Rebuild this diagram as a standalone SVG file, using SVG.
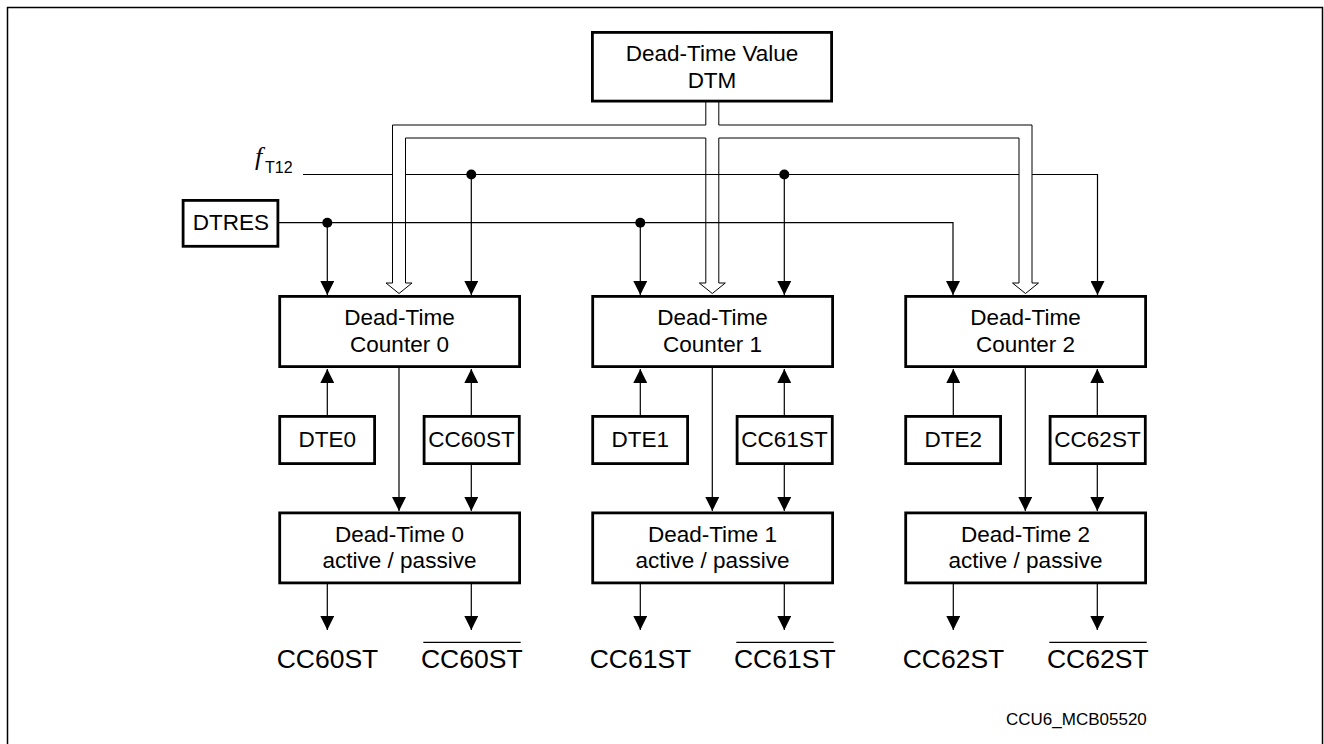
<svg xmlns="http://www.w3.org/2000/svg" width="1324" height="744" viewBox="0 0 1324 744">
<defs>
<style>
.box{fill:#fff;stroke:#000;stroke-width:2.8}
.t{font-family:"Liberation Sans",Arial,sans-serif;font-size:22.5px;fill:#000;text-anchor:middle}
.big{font-family:"Liberation Sans",Arial,sans-serif;font-size:26.5px;fill:#000;text-anchor:middle}
.w{fill:none;stroke:#000;stroke-width:1.2}
.a{fill:none;stroke:#000;stroke-width:1.2;marker-end:url(#ah)}
.p{fill:none;stroke:#000;stroke-width:1}
.oh{fill:#fff;stroke:#000;stroke-width:1}
.dot{fill:#000}
</style>
<marker id="ah" viewBox="0 0 14 14" refX="14" refY="7" markerWidth="14" markerHeight="14" markerUnits="userSpaceOnUse" orient="auto">
<path d="M0,0 L14,7 L0,14 z" fill="#000"/>
</marker>
</defs>
<rect width="1324" height="744" fill="#fff"/>
<rect x="7.5" y="7.5" width="1315" height="760" fill="none" stroke="#000" stroke-width="1.5"/>

<g id="connectors">
<!-- DTM bus (hollow) -->
<path class="p" d="M705.8,102 V125 H392.5 V283"/>
<path class="p" d="M705.8,283 V138 H405.5 V283"/>
<path class="p" d="M718.8,102 V125 H1032 V283"/>
<path class="p" d="M718.8,283 V138 H1019 V283"/>
<path class="oh" d="M392.5,283 H386 L399,293.5 L412,283 H405.5"/>
<path class="oh" d="M705.8,283 H699.3 L712.3,293.5 L725.3,283 H718.8"/>
<path class="oh" d="M1019,283 H1012.5 L1025.5,293.5 L1038.5,283 H1032"/>
<!-- fT12 line -->
<path class="w" d="M303,174.5 H392.5"/>
<path class="w" d="M405.5,174.5 H1019"/>
<path class="a" d="M1032,174.5 H1097.5 V295"/>
<path class="a" d="M471.3,174.5 V295"/>
<path class="a" d="M784.3,174.5 V295"/>
<circle class="dot" cx="471.3" cy="174.5" r="5"/>
<circle class="dot" cx="784.3" cy="174.5" r="5"/>
<!-- DTRES line -->
<path class="a" d="M279,222.7 H953 V295"/>
<path class="a" d="M327.3,222.7 V295"/>
<path class="a" d="M640.3,222.7 V295"/>
<circle class="dot" cx="327.3" cy="222.7" r="5"/>
<circle class="dot" cx="640.3" cy="222.7" r="5"/>
<!-- channel 0 -->
<path class="a" d="M327.3,415 V369"/>
<path class="a" d="M471.3,415 V369"/>
<path class="a" d="M399,368 V511"/>
<path class="a" d="M471.3,465 V511"/>
<path class="a" d="M327.3,584 V630"/>
<path class="a" d="M471.3,584 V630"/>
<!-- channel 1 -->
<path class="a" d="M640.3,415 V369"/>
<path class="a" d="M784.3,415 V369"/>
<path class="a" d="M712.3,368 V511"/>
<path class="a" d="M784.3,465 V511"/>
<path class="a" d="M640.3,584 V630"/>
<path class="a" d="M784.3,584 V630"/>
<!-- channel 2 -->
<path class="a" d="M953.3,415 V369"/>
<path class="a" d="M1097.3,415 V369"/>
<path class="a" d="M1025.3,368 V511"/>
<path class="a" d="M1097.3,465 V511"/>
<path class="a" d="M953.3,584 V630"/>
<path class="a" d="M1097.3,584 V630"/>
</g>

<g id="dtm">
<rect class="box" x="592.4" y="32.4" width="239.2" height="68.7"/>
<text class="t" x="712" y="61">Dead-Time Value</text>
<text class="t" x="712" y="87.7">DTM</text>
</g>

<g id="fT12">
<text x="255" y="165" font-family="'Liberation Serif',serif" font-style="italic" font-size="26">f</text>
<text x="265" y="173.3" font-family="'Liberation Sans',Arial,sans-serif" font-size="16">T12</text>
</g>

<g id="dtres">
<rect class="box" x="183.1" y="200.4" width="94.8" height="45.9"/>
<text class="t" x="231" y="229.5">DTRES</text>
</g>

<g id="counter0">
<rect class="box" x="279.7" y="296.4" width="239.9" height="70.2"/>
<text class="t" x="399.5" y="325">Dead-Time</text>
<text class="t" x="399.5" y="351.7">Counter 0</text>
</g>
<g id="dte0">
<rect class="box" x="279.7" y="416.4" width="94.9" height="47.2"/>
<text class="t" x="327.3" y="447">DTE0</text>
</g>
<g id="cc60st">
<rect class="box" x="424.1" y="416.4" width="95.2" height="47.2"/>
<text class="t" x="471.5" y="447">CC60ST</text>
</g>
<g id="dt0">
<rect class="box" x="279.7" y="512.9" width="239.9" height="70"/>
<text class="t" x="399.5" y="541.7">Dead-Time 0</text>
<text class="t" x="399.5" y="568.3">active / passive</text>
</g>
<g id="out0">
<text class="big" x="327.5" y="667.7">CC60ST</text>
<text class="big" x="471.8" y="667.7">CC60ST</text>
<line x1="423.3" y1="642.3" x2="520.7" y2="642.3" stroke="#000" stroke-width="1.2"/>
</g>

<g id="counter1">
<rect class="box" x="592.7" y="296.4" width="239.9" height="70.2"/>
<text class="t" x="712.5" y="325">Dead-Time</text>
<text class="t" x="712.5" y="351.7">Counter 1</text>
</g>
<g id="dte1">
<rect class="box" x="592.7" y="416.4" width="94.9" height="47.2"/>
<text class="t" x="640.3" y="447">DTE1</text>
</g>
<g id="cc61st">
<rect class="box" x="737.1" y="416.4" width="95.2" height="47.2"/>
<text class="t" x="784.5" y="447">CC61ST</text>
</g>
<g id="dt1">
<rect class="box" x="592.7" y="512.9" width="239.9" height="70"/>
<text class="t" x="712.5" y="541.7">Dead-Time 1</text>
<text class="t" x="712.5" y="568.3">active / passive</text>
</g>
<g id="out1">
<text class="big" x="640.5" y="667.7">CC61ST</text>
<text class="big" x="784.8" y="667.7">CC61ST</text>
<line x1="736.3" y1="642.3" x2="833.7" y2="642.3" stroke="#000" stroke-width="1.2"/>
</g>

<g id="counter2">
<rect class="box" x="905.7" y="296.4" width="239.9" height="70.2"/>
<text class="t" x="1025.5" y="325">Dead-Time</text>
<text class="t" x="1025.5" y="351.7">Counter 2</text>
</g>
<g id="dte2">
<rect class="box" x="905.7" y="416.4" width="94.9" height="47.2"/>
<text class="t" x="953.3" y="447">DTE2</text>
</g>
<g id="cc62st">
<rect class="box" x="1050.1" y="416.4" width="95.2" height="47.2"/>
<text class="t" x="1097.5" y="447">CC62ST</text>
</g>
<g id="dt2">
<rect class="box" x="905.7" y="512.9" width="239.9" height="70"/>
<text class="t" x="1025.5" y="541.7">Dead-Time 2</text>
<text class="t" x="1025.5" y="568.3">active / passive</text>
</g>
<g id="out2">
<text class="big" x="953.5" y="667.7">CC62ST</text>
<text class="big" x="1097.8" y="667.7">CC62ST</text>
<line x1="1049.3" y1="642.3" x2="1146.7" y2="642.3" stroke="#000" stroke-width="1.2"/>
</g>

<g id="footnote">
<text x="1006" y="725" font-family="'Liberation Sans',Arial,sans-serif" font-size="17">CCU6_MCB05520</text>
</g>
</svg>
